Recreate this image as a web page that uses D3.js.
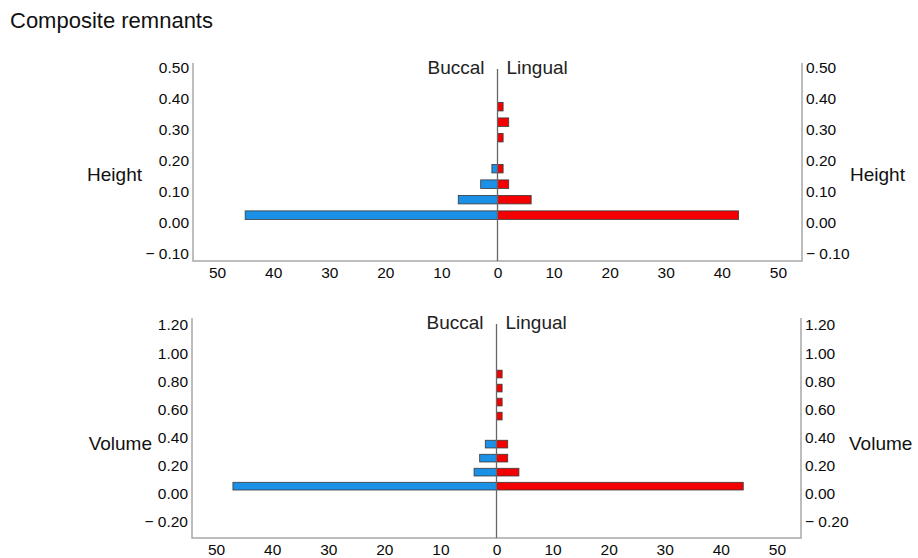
<!DOCTYPE html>
<html>
<head>
<meta charset="utf-8">
<script src="https://cdn.jsdelivr.net/npm/d3@7"></script>
<style>
  body { margin: 0; background: #fff; }
  svg { font-family: "Liberation Sans", Arial, Helvetica, sans-serif; }
</style>
</head>
<body>
<svg id="chart" width="918" height="558"></svg>
<script>
'use strict';

// bin centers and counts
var heightBins = [0.025, 0.075, 0.125, 0.175, 0.225, 0.275, 0.325, 0.375];
var heightBuccal = [45, 7, 3, 1, 0, 0, 0, 0];
var heightLingual = [43, 6, 2, 1, 0, 1, 2, 1];
var heightTicks = [-0.1, 0, 0.1, 0.2, 0.3, 0.4, 0.5];

var volumeBins = [0.05, 0.15, 0.25, 0.35, 0.45, 0.55, 0.65, 0.75, 0.85];
var volumeBuccal = [47, 4, 3, 2, 0, 0, 0, 0, 0];
var volumeLingual = [44, 4, 2, 2, 0, 1, 1, 1, 1];
var volumeTicks = [-0.2, 0, 0.2, 0.4, 0.6, 0.8, 1.0, 1.2];

var countTicks = [-50, -40, -30, -20, -10, 0, 10, 20, 30, 40, 50];

var svg = d3.select('#chart');

svg.append('text')
  .attr('x', 10).attr('y', 28)
  .attr('font-size', 22)
  .attr('fill', '#111')
  .text('Composite remnants');

function fmtY(d) {
  var s = d3.format('.2f')(Math.abs(d));
  return d < 0 ? '\u2212 ' + s : s;
}

function drawPanel(opt) {
  var x = d3.scaleLinear().domain([-54.3, 54.3]).range([opt.left, opt.right]);
  var y = d3.scaleLinear().domain(opt.yDomain).range([opt.bottom, opt.top]);
  var g = svg.append('g');
  var barH = Math.abs(y(0) - y(opt.binW)) * 0.55;

  // frame: left, bottom, right
  var axCol = '#a8a8a8';
  g.append('path')
    .attr('d', 'M' + opt.left + ',' + opt.top + 'V' + opt.bottom + 'H' + opt.right + 'V' + opt.top)
    .attr('fill', 'none').attr('stroke', axCol).attr('stroke-width', 1.5);

  // y axes, no tick marks
  var yl = g.append('g').attr('transform', 'translate(' + (opt.left - 4) + ',0)')
    .call(d3.axisLeft(y).tickValues(opt.ticks).tickFormat(fmtY).tickSize(0).tickPadding(0));
  var yr = g.append('g').attr('transform', 'translate(' + (opt.right + 4) + ',0)')
    .call(d3.axisRight(y).tickValues(opt.ticks).tickFormat(fmtY).tickSize(0).tickPadding(0));
  var xa = g.append('g').attr('transform', 'translate(0,' + (opt.bottom + 4) + ')')
    .call(d3.axisBottom(x).tickValues(countTicks).tickFormat(function(d) { return Math.abs(d); })
      .tickSize(0).tickPadding(0));
  [yl, yr, xa].forEach(function(a) {
    a.select('.domain').remove();
    a.selectAll('text').attr('font-size', 15.5).attr('fill', '#0a0a0a')
      .attr('font-family', '"Liberation Sans", Arial, sans-serif');
  });
  xa.selectAll('text').attr('dy', '0.82em');

  // bars
  var blue = opt.bins.map(function(b, i) { return { y: b, v: opt.buccal[i] }; }).filter(function(d) { return d.v > 0; });
  var red = opt.bins.map(function(b, i) { return { y: b, v: opt.lingual[i] }; }).filter(function(d) { return d.v > 0; });

  g.selectAll('rect.b').data(blue).enter().append('rect')
    .attr('x', function(d) { return x(-d.v); })
    .attr('y', function(d) { return y(d.y) - barH / 2; })
    .attr('width', function(d) { return x(0) - x(-d.v); })
    .attr('height', barH)
    .attr('fill', '#1a90e6').attr('stroke', '#3a3a3a').attr('stroke-width', 0.8);

  g.selectAll('rect.r').data(red).enter().append('rect')
    .attr('x', x(0))
    .attr('y', function(d) { return y(d.y) - barH / 2; })
    .attr('width', function(d) { return x(d.v) - x(0); })
    .attr('height', barH)
    .attr('fill', '#f40000').attr('stroke', '#3a3a3a').attr('stroke-width', 0.8);

  // center line
  g.append('line')
    .attr('x1', x(0)).attr('x2', x(0))
    .attr('y1', opt.top + 6).attr('y2', opt.bottom)
    .attr('stroke', '#666').attr('stroke-width', 1.3);

  g.append('text').attr('x', x(0) - 13).attr('y', opt.top + 11)
    .attr('text-anchor', 'end').attr('font-size', 19).attr('fill', '#222').text('Buccal');
  g.append('text').attr('x', x(0) + 9).attr('y', opt.top + 11)
    .attr('text-anchor', 'start').attr('font-size', 19).attr('fill', '#222').text('Lingual');

  g.append('text').attr('x', opt.labelX).attr('y', opt.labelY)
    .attr('text-anchor', 'end').attr('font-size', 19).attr('fill', '#111').text(opt.label);
  g.append('text').attr('x', opt.right + 48).attr('y', opt.labelY)
    .attr('text-anchor', 'start').attr('font-size', 19).attr('fill', '#111').text(opt.label);
}

drawPanel({
  left: 193, right: 802, top: 63, bottom: 261,
  yDomain: [-0.123, 0.516], binW: 0.05,
  bins: heightBins, buccal: heightBuccal, lingual: heightLingual,
  ticks: heightTicks, label: 'Height', labelY: 181, labelX: 142
});

drawPanel({
  left: 192, right: 801, top: 318, bottom: 538,
  yDomain: [-0.32, 1.25], binW: 0.1,
  bins: volumeBins, buccal: volumeBuccal, lingual: volumeLingual,
  ticks: volumeTicks, label: 'Volume', labelY: 450, labelX: 152
});
</script>
</body>
</html>
